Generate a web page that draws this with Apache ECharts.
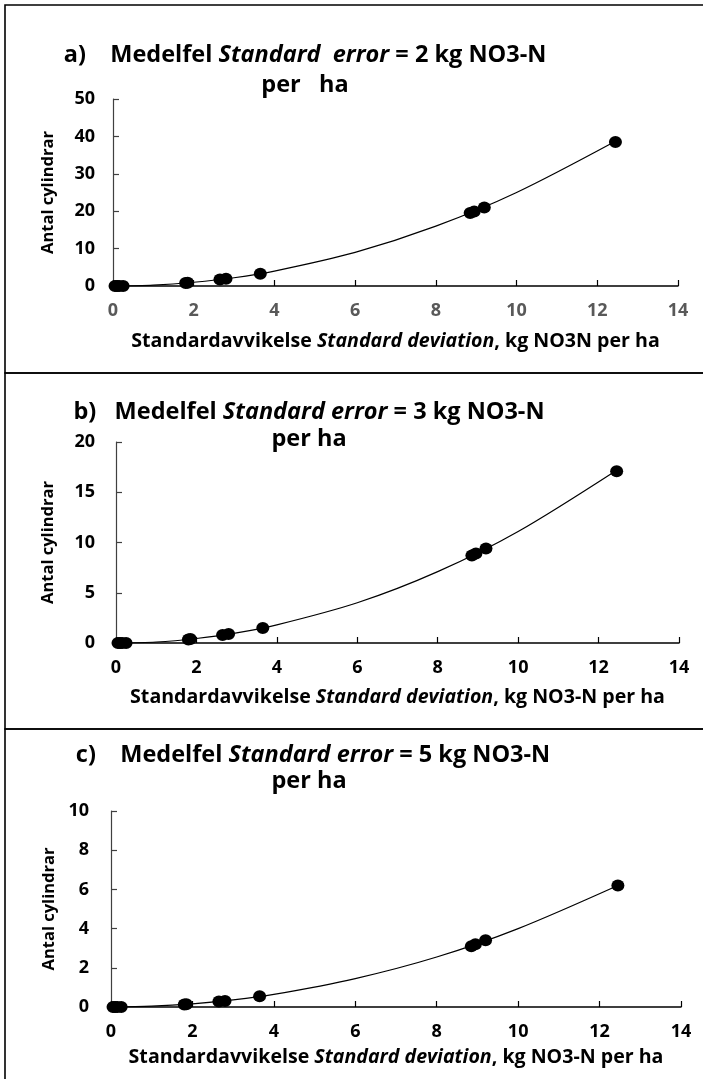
<!DOCTYPE html>
<html>
<head>
<meta charset="utf-8">
<script src="https://cdn.jsdelivr.net/npm/echarts@6/dist/echarts.min.js"></script>
<style>
  html, body { margin: 0; padding: 0; background: #fff; }
  #chart { width: 703px; height: 1079px; }
</style>
</head>
<body>
<div id="chart"></div>
<script>
// standard deviation (x) for each cylinder set
const sdValues = [0.05, 0.1, 0.15, 0.25, 1.8, 1.85, 2.65, 2.8, 3.65, 8.85, 8.95, 9.2, 12.45];
// number of cylinders needed, per panel
const cylA = [0, 0, 0, 0, 0.8, 0.85, 1.75, 1.95, 3.3, 19.5, 19.9, 21.0, 38.5];
const cylB = [0, 0, 0, 0, 0.35, 0.4, 0.8, 0.9, 1.5, 8.7, 8.9, 9.4, 17.1];
const cylC = [0, 0, 0, 0, 0.13, 0.14, 0.28, 0.31, 0.55, 3.1, 3.2, 3.4, 6.2];
// trend curve
const trendX = [0, 1, 2, 3, 4, 6, 8, 10, 12.45];
const trendA = [0, 0.25, 1, 2.2, 4, 9, 16, 25, 38.7];
const trendB = [0, 0.1, 0.45, 1, 1.8, 4, 7.1, 11.1, 17.2];
const trendC = [0, 0.04, 0.16, 0.36, 0.64, 1.45, 2.55, 4.0, 6.2];

const xTicks = { min: 0, max: 14, interval: 2 };
const yMaxA = 50, yStepA = 10;
const yMaxB = 20, yStepB = 5;
const yMaxC = 10, yStepC = 2;

const titleA = 'a)    Medelfel {it|Standard  error} = 2 kg NO3-N';
const titleB = 'b)   Medelfel {it|Standard error} = 3 kg NO3-N';
const titleC = 'c)    Medelfel {it|Standard error} = 5 kg NO3-N';
const title2A = 'per   ha';
const title2B = 'per ha';
const title2C = 'per ha';
const xNameA = 'Standardavvikelse {it|Standard deviation}, kg NO3N per ha';
const xNameBC = 'Standardavvikelse {it|Standard deviation}, kg NO3-N per ha';
const yName = 'Antal cylindrar';

const FONT = '"Open Sans", sans-serif';

const chart = echarts.init(document.getElementById('chart'));

const grids = [
  { left: 113, right: 25, top: 99, bottom: 793 },
  { left: 116, right: 24, top: 442, bottom: 436 },
  { left: 111, right: 22, top: 811, bottom: 72 }
];

function xAxisFor(i, labelColor, name, nameGap) {
  return {
    type: 'value', gridIndex: i,
    min: xTicks.min, max: xTicks.max, interval: xTicks.interval,
    name: name, nameLocation: 'middle', nameGap: nameGap,
    nameTextStyle: {
      fontFamily: FONT, fontWeight: 'bold', fontSize: 19.6, color: '#000',
      rich: { it: { fontFamily: FONT, fontWeight: 'bold', fontStyle: 'italic', fontSize: 19.6, color: '#000' } }
    },
    axisLine: { show: true, lineStyle: { color: '#000', width: 1.5 } },
    axisTick: { show: true, inside: true, length: 6, lineStyle: { color: '#000', width: 1.2 } },
    axisLabel: { fontFamily: FONT, fontWeight: 'bold', fontSize: 18, color: labelColor, margin: 16 },
    splitLine: { show: false }
  };
}

function yAxisFor(i, max, step, nameGap, labelMargin) {
  return {
    type: 'value', gridIndex: i,
    min: 0, max: max, interval: step,
    name: yName, nameLocation: 'middle', nameGap: nameGap, nameRotate: 90,
    nameTextStyle: { fontFamily: FONT, fontWeight: 'bold', fontSize: 16.5, color: '#000' },
    axisLine: { show: true, lineStyle: { color: '#404040', width: 1.2 } },
    axisTick: { show: true, inside: true, length: 6, lineStyle: { color: '#404040', width: 1.2 } },
    axisLabel: { fontFamily: FONT, fontWeight: 'bold', fontSize: 18, color: '#000', margin: labelMargin },
    splitLine: { show: false }
  };
}

function pairs(xs, ys) {
  return xs.map((x, k) => [x, ys[k]]);
}

function seriesFor(i, ys, trend) {
  return [
    {
      type: 'line', xAxisIndex: i, yAxisIndex: i,
      data: pairs(trendX, trend), smooth: 0.3,
      showSymbol: false, silent: true,
      lineStyle: { color: '#000', width: 1.2 }, z: 2
    },
    {
      type: 'scatter', xAxisIndex: i, yAxisIndex: i,
      data: pairs(sdValues, ys), symbol: 'circle', symbolSize: [13, 12],
      itemStyle: { color: '#000', opacity: 1 }, z: 3
    }
  ];
}

function titleText(text, x, y) {
  return {
    type: 'text', x: x, y: y, z: 10,
    style: {
      text: text, fill: '#000',
      fontFamily: FONT, fontWeight: 'bold', fontSize: 23.5,
      align: 'center', verticalAlign: 'middle',
      textAlign: 'center', textVerticalAlign: 'middle',
      rich: { it: { fontFamily: FONT, fontWeight: 'bold', fontStyle: 'italic', fontSize: 23.5, fill: '#000', color: '#000' } }
    }
  };
}

function box(y, h) {
  return {
    type: 'rect', z: 0,
    shape: { x: 5, y: y, width: 702, height: h },
    style: { fill: 'none', stroke: '#000', lineWidth: 1.6 }
  };
}

chart.setOption({
  backgroundColor: '#fff',
  animation: false,
  grid: grids,
  xAxis: [
    xAxisFor(0, '#595959', xNameA, 45),
    xAxisFor(1, '#000', xNameBC, 44),
    xAxisFor(2, '#000', xNameBC, 40)
  ],
  yAxis: [
    yAxisFor(0, yMaxA, yStepA, 56, 18),
    yAxisFor(1, yMaxB, yStepB, 59, 21),
    yAxisFor(2, yMaxC, yStepC, 53, 22)
  ],
  series: [].concat(
    seriesFor(0, cylA, trendA),
    seriesFor(1, cylB, trendB),
    seriesFor(2, cylC, trendC)
  ),
  graphic: [
    box(5, 368),
    box(373, 356),
    box(729, 360),
    titleText(titleA, 305, 55),
    titleText(title2A, 305, 85),
    titleText(titleB, 309, 412),
    titleText(title2B, 309, 439),
    titleText(titleC, 313, 755),
    titleText(title2C, 309, 781)
  ]
});
</script>
</body>
</html>
